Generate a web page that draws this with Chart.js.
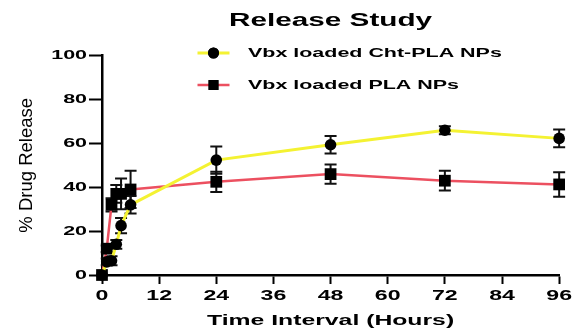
<!DOCTYPE html>
<html>
<head>
<meta charset="utf-8">
<script src="https://cdn.jsdelivr.net/npm/chart.js@4.4.1/dist/chart.umd.min.js"></script>
<style>
  html, body { margin: 0; padding: 0; background: #ffffff; }
  canvas { display: block; }
</style>
</head>
<body>
<canvas id="c" width="576" height="331"></canvas>
<script>
// ---------- data ----------
const timeHours   = [0, 1, 2, 3, 4, 6, 24, 48, 72, 96];
const chtPlaMean  = [0, 6, 6.5, 14, 22.5, 32, 52.4, 59.4, 66, 62.3];
const chtPlaSD    = [0, 1.5, 2, 2, 3.5, 4, 6.2, 4, 1.8, 4];
const plaMean     = [0, 12, 32, 37, 37, 39, 42.5, 46, 43, 41.3];
const plaSD       = [0, 1.5, 3, 4, 7, 8.5, 4.6, 4.4, 4.5, 5.6];
const seriesNames = ['Vbx loaded Cht-PLA NPs', 'Vbx loaded PLA NPs'];
const xTickValues = [0, 12, 24, 36, 48, 60, 72, 84, 96];
const yTickValues = [0, 20, 40, 60, 80, 100];
const chartTitle  = 'Release Study';
const xTitle      = 'Time Interval (Hours)';
const yTitle      = '% Drug Release';

// ---------- wide-text rendering (reference text is horizontally stretched) ----------
const SX = 1.65;
const canvas = document.getElementById('c');
const ctx = canvas.getContext('2d');
const protoFill = CanvasRenderingContext2D.prototype.fillText;
const protoMeasure = CanvasRenderingContext2D.prototype.measureText;
ctx.fillText = function (t, x, y, mw) {
  const m = this.getTransform();
  if (Math.abs(m.b) > 1e-6 || Math.abs(m.c) > 1e-6) {
    return protoFill.call(this, t, x, y);
  }
  this.save();
  this.translate(x, y);
  this.scale(SX, 1);
  protoFill.call(this, t, 0, 0);
  this.restore();
};
ctx.measureText = function (t) {
  const r = protoMeasure.call(this, t);
  return {
    width: r.width * SX,
    actualBoundingBoxAscent: r.actualBoundingBoxAscent,
    actualBoundingBoxDescent: r.actualBoundingBoxDescent,
    actualBoundingBoxLeft: r.actualBoundingBoxLeft * SX,
    actualBoundingBoxRight: r.actualBoundingBoxRight * SX,
    fontBoundingBoxAscent: r.fontBoundingBoxAscent,
    fontBoundingBoxDescent: r.fontBoundingBoxDescent
  };
};

const FONT = "'Liberation Sans', Arial, Helvetica, sans-serif";
const YELLOW = '#f4f232';
const RED = '#ec5060';
const errs = [chtPlaSD, plaSD];
const LEG_PAD = 19;
const LEG_BOX = 44;

const toPoints = (ys) => timeHours.map((t, i) => ({ x: t, y: ys[i] }));

const layoutFix = {
  id: 'layoutFix',
  afterLayout(chart) {
    const ca = chart.chartArea;
    const t = chart.titleBlock;
    if (t) { t.left = ca.left; t.right = ca.right; t.width = ca.right - ca.left; }
    const l = chart.legend;
    if (l) {
      l.left = 178.5; l.top = 27.5; l.right = 576; l.bottom = 331;
      l.width = l.right - l.left; l.height = l.bottom - l.top;
    }
  }
};

const axisExtend = {
  id: 'axisExtend',
  afterDraw(chart) {
    const c = chart.ctx, ca = chart.chartArea;
    c.save();
    c.strokeStyle = '#000';
    c.lineWidth = 2.5;
    c.beginPath();
    c.moveTo(ca.left, ca.bottom);
    c.lineTo(ca.left, ca.bottom + 4);
    c.stroke();
    c.restore();
  }
};

const errorBars = {
  id: 'errorBars',
  beforeDatasetsDraw(chart) {
    const c = chart.ctx;
    const xs = chart.scales.x, ys = chart.scales.y;
    c.save();
    c.strokeStyle = '#111111';
    c.lineWidth = 2;
    chart.data.datasets.forEach((ds, di) => {
      const means = di === 0 ? chtPlaMean : plaMean;
      errs[di].forEach((e, i) => {
        if (!e) return;
        const px = xs.getPixelForValue(timeHours[i]);
        const y1 = ys.getPixelForValue(means[i] + e);
        const y2 = ys.getPixelForValue(means[i] - e);
        c.beginPath();
        c.moveTo(px, y1); c.lineTo(px, y2);
        c.moveTo(px - 6, y1); c.lineTo(px + 6, y1);
        c.moveTo(px - 6, y2); c.lineTo(px + 6, y2);
        c.stroke();
      });
    });
    c.restore();
  }
};

const legendSymbols = {
  id: 'legendSymbols',
  afterDraw(chart) {
    const l = chart.legend;
    if (!l) return;
    const c = chart.ctx;
    const itemH = 13;
    chart.data.datasets.forEach((ds, i) => {
      const x0 = l.left + LEG_PAD;
      const cy = l.top + LEG_PAD + i * (itemH + LEG_PAD) + itemH / 2;
      c.save();
      c.strokeStyle = ds.borderColor;
      c.lineWidth = ds.borderWidth;
      c.beginPath();
      c.moveTo(x0, cy); c.lineTo(x0 + 32, cy);
      c.stroke();
      Chart.helpers.drawPoint(c, {
        pointStyle: ds.pointStyle, radius: i === 0 ? 5.5 : 7, rotation: 0, borderWidth: 0
      }, x0 + 16, cy);
      c.fillStyle = '#000';
      c.fill();
      c.restore();
    });
  }
};

new Chart(ctx, {
  type: 'line',
  data: {
    datasets: [
      {
        label: seriesNames[0],
        data: toPoints(chtPlaMean),
        borderColor: YELLOW,
        borderWidth: 3,
        pointStyle: 'circle',
        pointRadius: 5.8,
        pointBackgroundColor: '#000',
        pointBorderColor: '#000',
        pointBorderWidth: 0,
        tension: 0,
        clip: false
      },
      {
        label: seriesNames[1],
        data: toPoints(plaMean),
        borderColor: RED,
        borderWidth: 2.5,
        pointStyle: 'rect',
        pointRadius: 8.3,
        pointBackgroundColor: '#000',
        pointBorderColor: '#000',
        pointBorderWidth: 0,
        tension: 0,
        clip: false
      }
    ]
  },
  options: {
    responsive: false,
    animation: false,
    devicePixelRatio: 1,
    layout: { padding: { left: 0, right: 14, top: 0, bottom: 0 } },
    plugins: {
      title: {
        display: true,
        text: chartTitle,
        color: '#000',
        font: { family: FONT, size: 18, weight: 'bold' },
        padding: { top: 10, bottom: 24.1 }
      },
      legend: {
        display: true,
        position: 'chartArea',
        align: 'start',
        labels: {
          color: '#000',
          font: { family: FONT, size: 13, weight: 'bold' },
          boxWidth: LEG_BOX,
          boxHeight: 13,
          padding: LEG_PAD,
          generateLabels(chart) {
            return chart.data.datasets.map((ds, i) => ({
              text: ds.label,
              fillStyle: 'rgba(0,0,0,0)',
              strokeStyle: 'rgba(0,0,0,0)',
              lineWidth: 0,
              hidden: false,
              datasetIndex: i,
              fontColor: '#000'
            }));
          }
        }
      },
      tooltip: { enabled: false }
    },
    scales: {
      x: {
        type: 'linear',
        min: 0,
        max: 96,
        afterFit(s) { s.height = 56; },
        afterBuildTicks(s) { s.ticks = xTickValues.map(v => ({ value: v })); },
        grid: {
          drawOnChartArea: false,
          drawTicks: true,
          tickLength: 9,
          tickWidth: 2,
          tickColor: '#000'
        },
        border: { display: true, color: '#000', width: 2.5 },
        ticks: {
          color: '#000',
          padding: 4,
          maxRotation: 0,
          autoSkip: false,
          font: { family: FONT, size: 14, weight: 'bold' }
        },
        title: {
          display: true,
          text: xTitle,
          color: '#000',
          font: { family: FONT, size: 15, weight: 'bold' },
          padding: { top: 0, bottom: 1.3 }
        }
      },
      y: {
        type: 'linear',
        min: 0,
        max: 100,
        afterFit(s) { s.width = 102; },
        afterBuildTicks(s) { s.ticks = yTickValues.map(v => ({ value: v })); },
        grid: {
          drawOnChartArea: false,
          drawTicks: true,
          tickLength: 13,
          tickWidth: 2,
          tickColor: '#000'
        },
        border: { display: true, color: '#000', width: 2.5 },
        ticks: {
          color: '#000',
          padding: 2,
          font: { family: FONT, size: 13, weight: 'bold' }
        },
        title: {
          display: true,
          text: yTitle,
          color: '#000',
          font: { family: FONT, size: 18.5, weight: 'normal' },
          padding: { top: 15.8, bottom: 0 }
        }
      }
    }
  },
  plugins: [layoutFix, axisExtend, errorBars, legendSymbols]
});
</script>
</body>
</html>
